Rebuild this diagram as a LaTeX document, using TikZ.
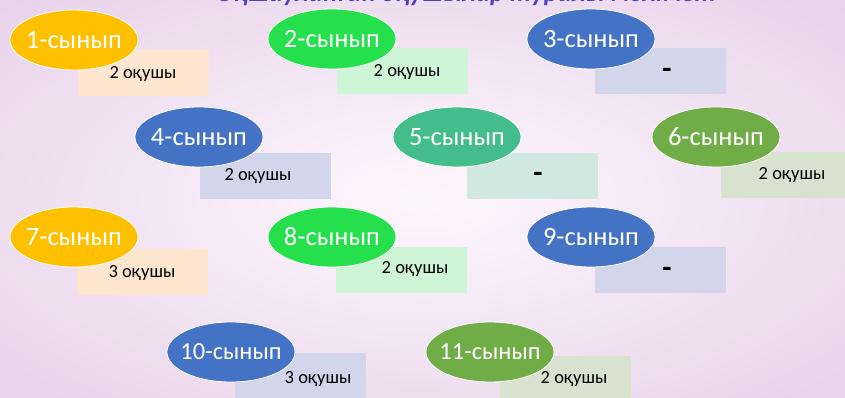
\documentclass[tikz,border=0pt]{standalone}
\usepackage{fontspec}
\setmainfont{Carlito}
\usetikzlibrary{shapes.geometric}

\definecolor{gold}{HTML}{FFC000}
\definecolor{brightgreen}{HTML}{25E04C}
\definecolor{steelblue}{HTML}{4472C4}
\definecolor{teal}{HTML}{43BE8B}
\definecolor{olive}{HTML}{70AD47}
\definecolor{peach}{HTML}{FDE6CF}
\definecolor{mint}{HTML}{CFF5D7}
\definecolor{lavender}{HTML}{D3D6EA}
\definecolor{seafoam}{HTML}{D0E8E0}
\definecolor{sage}{HTML}{D7E3CE}
\definecolor{titleblue}{HTML}{4F3FC4}

\pgfdeclareradialshading{bgglow}{\pgfpoint{0bp}{0bp}}{rgb(0bp)=(0.99,0.97,0.99);rgb(10bp)=(0.97,0.93,0.97);rgb(50bp)=(0.88,0.76,0.89)}

\begin{document}
\begin{tikzpicture}[x=1pt,y=-1pt,
		gradecell/.style={ellipse,draw=white,line width=0.8pt,minimum width=128pt,minimum height=60pt,inner xsep=-14pt,inner ysep=0pt,text=white,font=\fontsize{26.5}{26.5}\selectfont},
		smallcell/.style={gradecell,font=\fontsize{24.5}{24.5}\selectfont},
		countbox/.style={rectangle,anchor=north west,minimum width=131pt,minimum height=46pt,inner sep=0pt},
		counttext/.style={inner sep=0pt,font=\fontsize{18.5}{18.5}\selectfont},
		nonetext/.style={inner sep=0pt,font=\fontsize{30}{30}\selectfont\bfseries}]
			\useasboundingbox (0,0) rectangle (845,398);
			\clip (0,0) rectangle (845,398);
			\shade[shading=bgglow] (0,0) rectangle (845,398);
			
			%Title, cut at the top
			\node[anchor=base,text=titleblue,font=\fontsize{26.5}{26.5}\selectfont\bfseries\itshape] (H) at (466,2) {Оқшауланған оқушылар туралы мәлімет};
			
			%1-сынып
			\def\x{74}
			\def\y{40}
			\node[countbox,fill=peach] (B1) at (\x+4,\y+10) {};
			\node[counttext] (T1) at (\x+69,\y+34) {2 оқушы};
			\node[gradecell,fill=gold] (K1) at (\x,\y) {1-сынып};
			
			%2-сынып
			\def\x{332}
			\def\y{39}
			\node[countbox,fill=mint] (B2) at (\x+5,\y+9) {};
			\node[counttext] (T2) at (\x+75,\y+33) {2 оқушы};
			\node[gradecell,fill=brightgreen] (K2) at (\x,\y) {2-сынып};
			
			%3-сынып
			\def\x{591}
			\def\y{39}
			\node[countbox,fill=lavender] (B3) at (\x+4,\y+9) {};
			\node[nonetext] (T3) at (\x+76,\y+34) {-};
			\node[gradecell,fill=steelblue] (K3) at (\x,\y) {3-сынып};
			
			%4-сынып
			\def\x{199}
			\def\y{137}
			\node[countbox,fill=lavender] (B4) at (\x+1,\y+16) {};
			\node[counttext] (T4) at (\x+59,\y+39) {2 оқушы};
			\node[gradecell,fill=steelblue] (K4) at (\x,\y) {4-сынып};
			
			%5-сынып
			\def\x{457}
			\def\y{137}
			\node[countbox,fill=seafoam] (B5) at (\x+10,\y+16) {};
			\node[nonetext] (T5) at (\x+81,\y+40) {-};
			\node[gradecell,fill=teal] (K5) at (\x,\y) {5-сынып};
			
			%6-сынып
			\def\x{716}
			\def\y{137}
			\node[countbox,fill=sage] (B6) at (\x+5,\y+15) {};
			\node[counttext] (T6) at (\x+76,\y+38) {2 оқушы};
			\node[gradecell,fill=olive] (K6) at (\x,\y) {6-сынып};
			
			%7-сынып
			\def\x{74}
			\def\y{237}
			\node[countbox,fill=peach] (B7) at (\x+3,\y+12) {};
			\node[counttext] (T7) at (\x+68,\y+36) {3 оқушы};
			\node[gradecell,fill=gold] (K7) at (\x,\y) {7-сынып};
			
			%8-сынып
			\def\x{332}
			\def\y{237}
			\node[countbox,fill=mint] (B8) at (\x+4,\y+10) {};
			\node[counttext] (T8) at (\x+83,\y+32) {2 оқушы};
			\node[gradecell,fill=brightgreen] (K8) at (\x,\y) {8-сынып};
			
			%9-сынып
			\def\x{591}
			\def\y{237}
			\node[countbox,fill=lavender] (B9) at (\x+4,\y+10) {};
			\node[nonetext] (T9) at (\x+76,\y+35) {-};
			\node[gradecell,fill=steelblue] (K9) at (\x,\y) {9-сынып};
			
			%10-сынып
			\def\x{231}
			\def\y{352}
			\node[countbox,fill=lavender] (B10) at (\x+4,\y+1) {};
			\node[counttext] (T10) at (\x+87,\y+27) {3 оқушы};
			\node[smallcell,fill=steelblue] (K10) at (\x,\y) {10-сынып};
			
			%11-сынып
			\def\x{490}
			\def\y{352}
			\node[countbox,fill=sage] (B11) at (\x+10,\y+4) {};
			\node[counttext] (T11) at (\x+84,\y+27) {2 оқушы};
			\node[smallcell,fill=olive] (K11) at (\x,\y) {11-сынып};
		\end{tikzpicture}
\end{document}
